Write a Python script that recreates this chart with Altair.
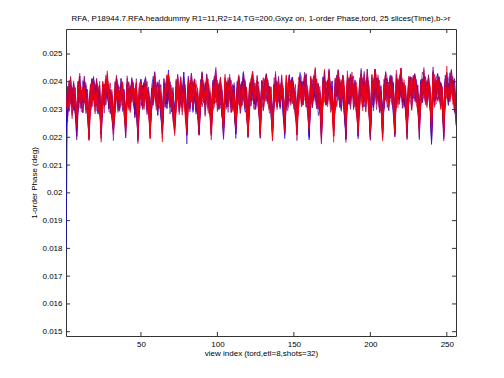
import altair as alt
import pandas as pd

# ---- data (values in 1e-5 deg) ----
n_slices = 25
views = list(range(1, 257))

# mean phase per view, 32 shots x 8 echoes
view_mean = [
    2255, 2320, 2352, 2365, 2330, 2348, 2325, 2250,
    2350, 2372, 2335, 2345, 2368, 2332, 2322, 2245,
    2345, 2366, 2380, 2338, 2355, 2328, 2342, 2238,
    2360, 2340, 2370, 2382, 2345, 2330, 2318, 2242,
    2338, 2375, 2352, 2335, 2368, 2346, 2326, 2250,
    2366, 2345, 2332, 2374, 2352, 2328, 2344, 2236,
    2350, 2370, 2340, 2356, 2378, 2340, 2325, 2246,
    2342, 2365, 2380, 2346, 2334, 2360, 2330, 2240,
    2362, 2344, 2368, 2385, 2350, 2336, 2320, 2248,
    2346, 2374, 2340, 2360, 2338, 2370, 2330, 2238,
    2368, 2348, 2380, 2342, 2366, 2340, 2326, 2244,
    2352, 2376, 2355, 2338, 2372, 2348, 2334, 2250,
    2344, 2364, 2388, 2352, 2340, 2368, 2324, 2236,
    2372, 2348, 2356, 2382, 2346, 2338, 2332, 2246,
    2355, 2378, 2342, 2362, 2386, 2350, 2328, 2240,
    2348, 2370, 2386, 2354, 2338, 2374, 2334, 2248,
    2374, 2352, 2362, 2392, 2360, 2340, 2328, 2234,
    2356, 2382, 2346, 2366, 2344, 2378, 2336, 2246,
    2364, 2348, 2386, 2356, 2376, 2342, 2330, 2240,
    2352, 2390, 2360, 2346, 2382, 2364, 2336, 2250,
    2372, 2356, 2374, 2394, 2352, 2344, 2332, 2238,
    2360, 2382, 2350, 2368, 2388, 2348, 2338, 2244,
    2354, 2372, 2392, 2358, 2346, 2380, 2332, 2236,
    2380, 2358, 2368, 2386, 2362, 2350, 2336, 2248,
    2362, 2386, 2352, 2374, 2350, 2392, 2340, 2240,
    2372, 2354, 2394, 2366, 2380, 2346, 2334, 2234,
    2358, 2390, 2368, 2352, 2386, 2372, 2342, 2246,
    2382, 2362, 2376, 2398, 2358, 2350, 2338, 2238,
    2366, 2388, 2354, 2374, 2392, 2362, 2344, 2244,
    2360, 2376, 2396, 2364, 2350, 2384, 2340, 2232,
    2386, 2366, 2372, 2390, 2370, 2356, 2342, 2246,
    2368, 2392, 2360, 2378, 2388, 2366, 2346, 2295,
]

# first view value of each slice (blue -> red)
first_view = [1785, 2200, 2225, 2240, 2250, 2262, 2270, 2278, 2285, 2290,
              2295, 2300, 2303, 2306, 2310, 2312, 2315, 2317, 2319, 2320,
              2321, 2322, 2323, 2324, 2325]

# slice-to-slice scatter about the mean (estimated band spread)
scatter = [12, -25, 31, -8, 44, -37, 5, -19, 27, -41, 16, 38, -3, -29, 22, -52,
           9, 35, -14, 48, -22, 2, -33, 19, 41, -11, -46, 28, 7, -27, 36, -5,
           -39, 14, 51, -18, 24, -34, 0, 30, -16, 45, -43, 11, -7, 33, -24, 18,
           -50, 39, 4, -31, 26, -12, 47, -36, 8, -21, 34, -2, -44, 21, 13, -28,
           42, -9, -38, 29, 1, -17, 37, -48, 15, 25, -6, -32, 49, -23, 10, -40,
           32, -13, 20, -26, 43, -4, -35, 17, 6, -45, 40, -15, 23, -30, 3, 46, -20]

x_ticks = [50, 100, 150, 200, 250]
y_ticks = [0.015, 0.016, 0.017, 0.018, 0.019, 0.020, 0.021, 0.022, 0.023, 0.024, 0.025]

title_text = "RFA, P18944.7.RFA.headdummy R1=11,R2=14,TG=200,Gxyz on, 1-order Phase,tord, 25 slices(Time),b->r"
x_title = "view index (tord,etl=8,shots=32)"
y_title = "1-order Phase (deg)"

# ---- table ----
L = len(scatter)
rows = []
for s in range(n_slices):
    for i, v in enumerate(views):
        if i == 0:
            val = first_view[s]
        else:
            val = view_mean[i] + scatter[(i * 3 + s * 17) % L] * 0.9 + scatter[(i * 11 + s * 5 + 40) % L] * 0.45
        rows.append({"slice": f"s{s:02d}", "view": v, "phase": val / 1e5})
df = pd.DataFrame(rows)

slice_names = [f"s{s:02d}" for s in range(n_slices)]
colors = []
for s in range(n_slices):
    f = s / (n_slices - 1)
    colors.append("#{:02x}00{:02x}".format(round(255 * f), round(255 * (1 - f))))

W, H = 390, 307
xscale = alt.Scale(domain=[1, 256], nice=False, zero=False)
yscale = alt.Scale(domain=[0.014845, 0.0259], nice=False, zero=False)
FONT = "Liberation Sans"

x_axis = alt.Axis(values=x_ticks, tickSize=0, domain=False, grid=False,
                  labelFontSize=8, labelFont=FONT, labelPadding=4, labelColor="#000",
                  title=x_title, titleFont=FONT, titleFontSize=8, titleFontWeight="normal",
                  titlePadding=1, titleColor="#000")
y_axis = alt.Axis(values=y_ticks, format=".3~f", tickSize=0, domain=False, grid=False,
                  labelFontSize=8, labelFont=FONT, labelPadding=4, labelColor="#000",
                  title=y_title, titleFont=FONT, titleFontSize=8, titleFontWeight="normal",
                  titlePadding=3, titleColor="#000")

lines = alt.Chart(df).mark_line(strokeWidth=0.6, clip=True).encode(
    x=alt.X("view:Q", scale=xscale, axis=x_axis, title=x_title),
    y=alt.Y("phase:Q", scale=yscale, axis=y_axis, title=y_title),
    color=alt.Color("slice:N", scale=alt.Scale(domain=slice_names, range=colors), legend=None),
    detail="slice:N",
)

xt = pd.DataFrame({"view": x_ticks})
yt = pd.DataFrame({"phase": y_ticks})
tick_color = "#333"
xb = alt.Chart(xt).mark_rule(color=tick_color, strokeWidth=1).encode(
    x=alt.X("view:Q", scale=xscale, axis=x_axis, title=x_title), y=alt.value(H), y2=alt.value(H - 4))
xtp = alt.Chart(xt).mark_rule(color=tick_color, strokeWidth=1).encode(
    x=alt.X("view:Q", scale=xscale, axis=x_axis, title=x_title), y=alt.value(0), y2=alt.value(4))
yl = alt.Chart(yt).mark_rule(color=tick_color, strokeWidth=1).encode(
    y=alt.Y("phase:Q", scale=yscale, axis=y_axis, title=y_title), x=alt.value(0), x2=alt.value(4))
yr = alt.Chart(yt).mark_rule(color=tick_color, strokeWidth=1).encode(
    y=alt.Y("phase:Q", scale=yscale, axis=y_axis, title=y_title), x=alt.value(W), x2=alt.value(W - 4))

chart = alt.layer(lines, xb, xtp, yl, yr).properties(
    width=W, height=H,
    title=alt.TitleParams(title_text, font=FONT, fontSize=8, fontWeight="normal",
                          color="#000", anchor="middle", offset=6),
    padding={"left": 58, "top": 21, "right": 40, "bottom": 34},
    autosize=alt.AutoSizeParams(type="none"),
    background="white",
).configure_view(stroke="#333", strokeWidth=1)

chart.save("out.html", embed_options={"renderer": "svg", "actions": False})
